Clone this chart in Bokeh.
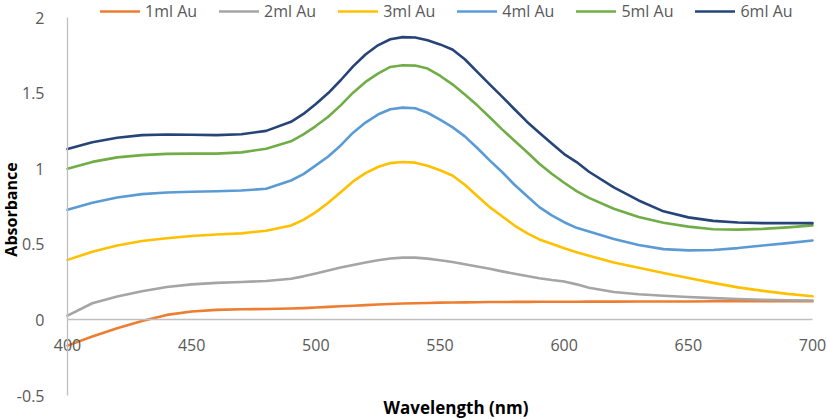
import math
from bokeh.plotting import figure
from bokeh.models import (Range1d, FixedTicker, CustomJSTickFormatter, Legend,
                          LegendItem, Label)
from bokeh.embed import file_html
from bokeh.resources import INLINE

# ---- data ----
wavelength = [400, 410, 420, 430, 440, 450, 460, 470, 480, 490,
              495, 500, 505, 510, 515, 520, 525, 530, 535, 540,
              545, 550, 555, 560, 565, 570, 575, 580, 585, 590,
              595, 600, 605, 610, 620, 630, 640, 650, 660, 670,
              680, 690, 700]

au_1ml = [-0.17, -0.11, -0.055, -0.008, 0.033, 0.056, 0.066, 0.07, 0.072, 0.075,
          0.078, 0.082, 0.086, 0.09, 0.094, 0.098, 0.102, 0.105, 0.108, 0.11,
          0.112, 0.114, 0.115, 0.116, 0.117, 0.118, 0.118, 0.119, 0.119, 0.12,
          0.12, 0.12, 0.12, 0.121, 0.121, 0.122, 0.122, 0.122, 0.123, 0.123,
          0.123, 0.123, 0.123]

au_2ml = [0.028, 0.11, 0.155, 0.19, 0.218, 0.235, 0.245, 0.251, 0.257, 0.272,
          0.288, 0.307, 0.327, 0.346, 0.363, 0.379, 0.395, 0.406, 0.412, 0.412,
          0.405, 0.395, 0.383, 0.368, 0.353, 0.338, 0.321, 0.305, 0.29, 0.276,
          0.264, 0.254, 0.235, 0.213, 0.185, 0.17, 0.16, 0.151, 0.144, 0.138,
          0.133, 0.13, 0.128]

au_3ml = [0.397, 0.45, 0.492, 0.522, 0.54, 0.555, 0.565, 0.572, 0.59, 0.624,
          0.662, 0.713, 0.775, 0.845, 0.916, 0.971, 1.011, 1.037, 1.044, 1.04,
          1.02, 0.99, 0.955, 0.894, 0.819, 0.746, 0.686, 0.624, 0.574, 0.532,
          0.503, 0.474, 0.448, 0.425, 0.38, 0.345, 0.31, 0.277, 0.245, 0.215,
          0.192, 0.172, 0.156]

au_4ml = [0.728, 0.775, 0.81, 0.832, 0.843, 0.848, 0.851, 0.856, 0.867, 0.922,
          0.964, 1.022, 1.081, 1.154, 1.238, 1.305, 1.358, 1.393, 1.404, 1.40,
          1.37, 1.325, 1.275, 1.214, 1.137, 1.055, 0.978, 0.894, 0.819, 0.746,
          0.691, 0.646, 0.609, 0.585, 0.535, 0.495, 0.468, 0.46, 0.462, 0.475,
          0.492, 0.508, 0.525]

au_5ml = [1.00, 1.045, 1.075, 1.09, 1.098, 1.10, 1.10, 1.108, 1.132, 1.181,
          1.227, 1.282, 1.344, 1.419, 1.503, 1.574, 1.629, 1.673, 1.684, 1.682,
          1.662, 1.615, 1.558, 1.49, 1.419, 1.34, 1.26, 1.185, 1.11, 1.033,
          0.967, 0.907, 0.852, 0.807, 0.735, 0.68, 0.643, 0.617, 0.60, 0.597,
          0.602, 0.612, 0.625]

au_6ml = [1.13, 1.175, 1.205, 1.222, 1.226, 1.225, 1.222, 1.228, 1.25, 1.31,
          1.362, 1.428, 1.50, 1.585, 1.677, 1.755, 1.816, 1.856, 1.87, 1.868,
          1.85, 1.822, 1.788, 1.724, 1.64, 1.558, 1.477, 1.393, 1.311, 1.238,
          1.166, 1.097, 1.044, 0.98, 0.876, 0.79, 0.718, 0.678, 0.655, 0.644,
          0.64, 0.64, 0.64]

series_names = ["1ml Au", "2ml Au", "3ml Au", "4ml Au", "5ml Au", "6ml Au"]
series_values = [au_1ml, au_2ml, au_3ml, au_4ml, au_5ml, au_6ml]
series_colors = ["#ED7D31", "#A5A5A5", "#FFC000", "#5B9BD5", "#70AD47", "#264478"]

x_ticks = [400, 450, 500, 550, 600, 650, 700]
y_ticks = [-0.5, 0, 0.5, 1, 1.5, 2]

x_title = "Wavelength (nm)"
y_title = "Absorbance"

FONT = "Open Sans"
LABEL_GRAY = "#595959"
AXIS_GRAY = "#BFBFBF"

W, H = 827, 419
# plot-area margins in pixels (axes are drawn inside one full-size frame)
M_LEFT, M_RIGHT, M_TOP, M_BOTTOM = 67, 15, 17, 24

x0, x1 = x_ticks[0], x_ticks[-1]
y0, y1 = y_ticks[0], y_ticks[-1]
px_per_x = (W - M_LEFT - M_RIGHT) / (x1 - x0)
px_per_y = (H - M_TOP - M_BOTTOM) / (y1 - y0)

p = figure(width=W, height=H, output_backend="svg", toolbar_location=None,
           x_range=Range1d(x0 - M_LEFT / px_per_x, x1 + M_RIGHT / px_per_x),
           y_range=Range1d(y0 - M_BOTTOM / px_per_y, y1 + M_TOP / px_per_y),
           min_border=0)
p.outline_line_color = None
p.xgrid.visible = False
p.ygrid.visible = False
p.background_fill_color = "white"
p.border_fill_color = "white"

# x axis crossing at y = 0
xa = p.xaxis[0]
xa.fixed_location = 0
xa.bounds = (x0, x1)
xa.ticker = FixedTicker(ticks=x_ticks)
xa.axis_line_color = AXIS_GRAY
xa.axis_line_width = 1.3
xa.major_tick_line_color = None
xa.minor_tick_line_color = None
xa.major_label_standoff = 13
xa.major_label_text_font = FONT
xa.major_label_text_font_size = "16px"
xa.major_label_text_color = LABEL_GRAY

# y axis at x = 400
ya = p.yaxis[0]
ya.fixed_location = x0
ya.bounds = (y0, y1)
ya.ticker = FixedTicker(ticks=y_ticks)
ya.formatter = CustomJSTickFormatter(code="return String(tick);")
ya.axis_line_color = AXIS_GRAY
ya.axis_line_width = 1.3
ya.major_tick_line_color = None
ya.minor_tick_line_color = None
ya.major_label_standoff = 17
ya.major_label_text_font = FONT
ya.major_label_text_font_size = "16px"
ya.major_label_text_color = LABEL_GRAY

items = []
for name, vals, col in zip(series_names, series_values, series_colors):
    r = p.line(wavelength, vals, line_color=col, line_width=2.6,
               line_join="round", line_cap="round")
    items.append(LegendItem(label=name, renderers=[r]))

legend = Legend(items=items, orientation="horizontal", location=(100, H - 22),
                margin=0, padding=0, spacing=22, glyph_width=40, glyph_height=16,
                label_standoff=5, label_height=16,
                label_text_font=FONT, label_text_font_size="16px",
                label_text_color=LABEL_GRAY,
                background_fill_alpha=0, border_line_color=None)
p.add_layout(legend)

xlab = Label(x=(x0 + x1) / 2, y=y0, x_offset=16, y_offset=-12,
             text=x_title, text_align="center", text_baseline="middle",
             text_font=FONT, text_font_size="17px", text_font_style="bold",
             text_color="#000000")
p.add_layout(xlab)

ylab = Label(x=x0, y=(y0 + y1) / 2, x_offset=-57, y_offset=-3,
             angle=math.pi / 2, text=y_title, text_align="center",
             text_baseline="middle", text_font=FONT, text_font_size="16px",
             text_font_style="bold", text_color="#000000")
p.add_layout(ylab)

open("out.html", "w").write(file_html(p, INLINE))
